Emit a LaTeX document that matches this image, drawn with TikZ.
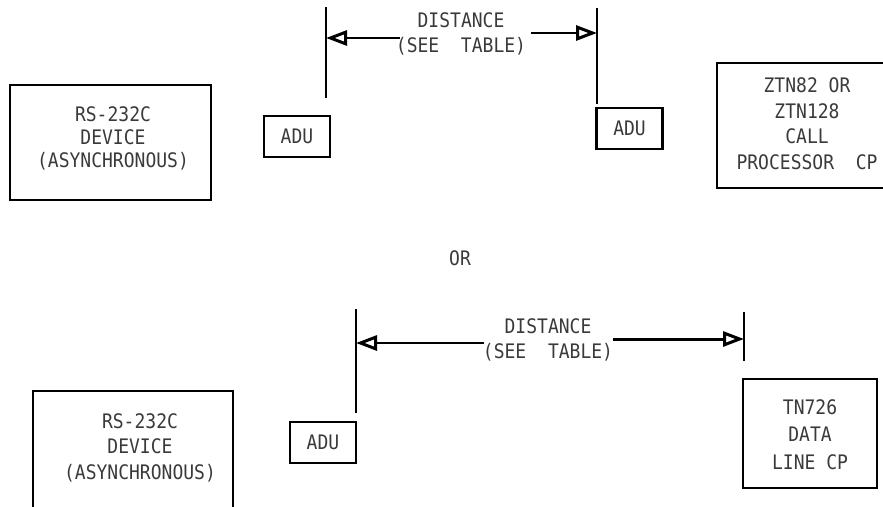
\documentclass[tikz,border=0pt]{standalone}
\usepackage{fontspec}
\newfontfamily\lbl[FakeStretch=0.9]{DejaVu Sans Mono}
\usetikzlibrary{arrows.meta}
\definecolor{txt}{HTML}{3a3a3a}
\begin{document}
\begin{tikzpicture}[x=1pt,y=-1pt,
  lab/.style={text=txt,font={\lbl\fontsize{20}{25}\selectfont},align=center,inner sep=0pt},
  boxline/.style={draw=black,line width=2.1pt},
  adubox/.style={boxline,minimum width=66pt,minimum height=41pt,inner sep=0pt,text=txt,font={\lbl\fontsize{20}{25}\selectfont}},
  dimline/.style={line width=2.1pt},
  dimarrow/.style={line width=2.1pt,-{Triangle[open,length=21pt,width=15pt,line width=3pt]}}
]
\useasboundingbox (0,0) rectangle (883,506);
% ---------------- top ----------------
\node[boxline,minimum width=201pt,minimum height=115pt] (dev1) at (110.5,142.5) {};
\node[lab,font={\lbl\fontsize{20}{23}\selectfont}] (dev1t) at (113,138) {RS-232C\\DEVICE\\(ASYNCHRONOUS)};
\node[adubox] (adu1) at (297,136.5) {ADU};
\node[adubox] (adu2) at (629.5,128.5) {ADU};
\node[boxline,minimum width=169pt,minimum height=125pt] (ztn) at (801.5,125.5) {};
\node[lab,font={\lbl\fontsize{20}{25.5}\selectfont}] (ztnt) at (807,123.5) {ZTN82 OR\\ZTN128\\CALL\\PROCESSOR\ \ CP};
\coordinate (v1t) at (326,7);
\coordinate (v1b) at (326,98);
\coordinate (v2t) at (597,8);
\coordinate (v2b) at (597,104);
\draw[dimline] (v1t) -- (v1b);
\draw[dimline] (v2t) -- (v2b);
\node[lab] (dist1) at (461,34) {DISTANCE\\(SEE\ \ TABLE)};
\coordinate (a1) at (326,38);
\coordinate (a2) at (597,33);
\draw[dimarrow] (400,38) coordinate (s1) -- (a1);
\draw[dimarrow] (531,33) coordinate (s2) -- (a2);
% ---------------- OR ----------------
\node[lab] (or) at (460,258) {OR};
% ---------------- bottom ----------------
\node[minimum width=200pt,minimum height=120pt,inner sep=0pt] (dev2) at (133,451) {};
\draw[boxline] (dev2.south west) -- (dev2.north west) -- (dev2.north east) -- (dev2.south east);
\node[lab,font={\lbl\fontsize{20}{25.5}\selectfont}] (dev2t) at (140,447.5) {RS-232C\\DEVICE\\(ASYNCHRONOUS)};
\node[adubox] (adu3) at (323,442.5) {ADU};
\node[boxline,minimum width=134pt,minimum height=109pt] (tn) at (810,433.5) {};
\node[lab,font={\lbl\fontsize{20}{27.5}\selectfont}] (tnt) at (810,434.5) {TN726\\DATA\\LINE CP};
\coordinate (v3t) at (356,309);
\coordinate (v3b) at (356,413);
\coordinate (v4t) at (744,312);
\coordinate (v4b) at (744,361);
\draw[dimline] (v3t) -- (v3b);
\draw[dimline] (v4t) -- (v4b);
\node[lab] (dist2) at (548,340) {DISTANCE\\(SEE\ \ TABLE)};
\coordinate (a3) at (356,343);
\coordinate (a4) at (744,339);
\draw[dimarrow] (484,343) coordinate (s3) -- (a3);
\draw[dimarrow,line width=3pt] (613,339) coordinate (s4) -- (a4);
\end{tikzpicture}
\end{document}
